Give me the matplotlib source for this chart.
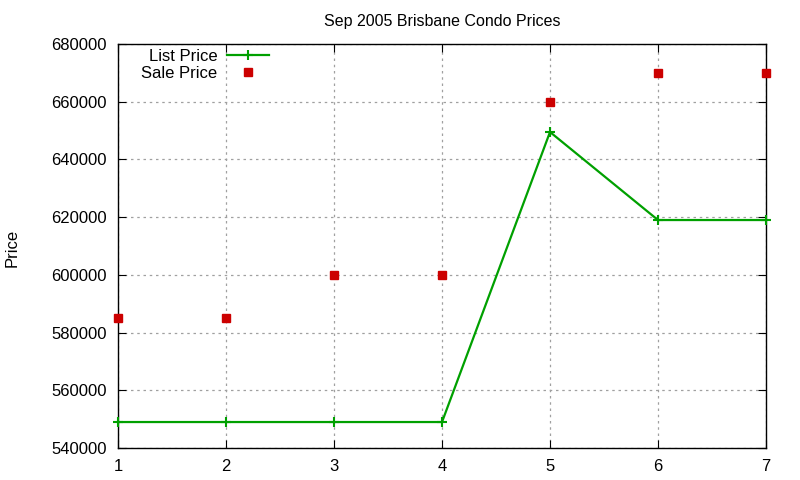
import matplotlib
matplotlib.use("Agg")
import matplotlib.pyplot as plt

plt.rcParams['font.family'] = ['Liberation Sans', 'DejaVu Sans']

x = [1, 2, 3, 4, 5, 6, 7]
list_price = [549000, 549000, 549000, 549000, 649500, 619000, 619000]
sale_price = [585000, 585000, 600000, 600000, 660000, 670000, 670000]
yticks = [540000, 560000, 580000, 600000, 620000, 640000, 660000, 680000]

fig = plt.figure(figsize=(8, 4.8), dpi=100)
ax = fig.add_axes([118 / 800, 1 - 448 / 480, (766 - 118) / 800, (448 - 44) / 480])

ax.plot(x, list_price, color='#00a000', lw=1.6, marker='+', ms=7, mew=1.5,
        label='List Price', clip_on=False, zorder=3)
ax.plot(x, sale_price, ls='none', color='#cc0000', marker='s', ms=6,
        label='Sale Price', clip_on=False, zorder=3)

ax.set_xlim(1, 7)
ax.set_ylim(540000, 680000)
ax.set_xticks(x)
ax.set_yticks(yticks)
ax.grid(True, color='#a0a0a0', ls=(0, (2, 3)), lw=0.9)
ax.tick_params(direction='in', top=True, right=True, labelsize=12, length=6, pad=8)
for s in ax.spines.values():
    s.set_linewidth(1.0)

ax.set_title('Sep 2005 Brisbane Condo Prices', fontsize=11.5, pad=13)
fig.text(12 / 800, 1 - 248 / 480, 'Price', rotation=90, fontsize=12,
         ha='center', va='center')

leg = ax.legend(loc='upper left', markerfirst=False, frameon=False, fontsize=12,
                handlelength=2.5, borderaxespad=0.1, labelspacing=0.12,
                handletextpad=0.6, bbox_to_anchor=(0.023, 1.008))
for t in leg.get_texts():
    t.set_ha('right')

fig.savefig('out.png', dpi=100)
